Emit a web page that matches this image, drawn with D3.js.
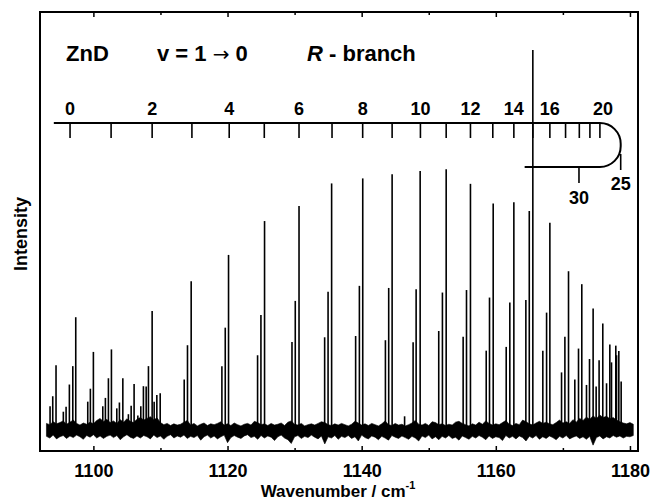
<!DOCTYPE html>
<html>
<head>
<meta charset="utf-8">
<script src="https://cdn.jsdelivr.net/npm/d3@7"></script>
<style>
  body { margin: 0; background: #fff; }
  text { font-family: "Liberation Sans", Arial, sans-serif; font-weight: bold; fill: #000; }
</style>
</head>
<body>
<div id="chart"></div>
<script>
// line positions (cm-1) and peak heights (arb. units, baseline = 0)
const peakPos = [
  1093.54, 1093.94, 1094.43, 1095.52, 1095.93, 1096.42, 1096.93, 1097.37,
  1099.16, 1099.55, 1100.00, 1101.40, 1101.79, 1102.24, 1102.69,
  1103.49, 1103.88, 1104.39, 1105.22, 1105.63, 1106.07,
  1106.63, 1107.07, 1107.46, 1107.87, 1108.21, 1108.76,
  1109.06, 1109.46, 1109.96,
  1113.54, 1114.03, 1114.58, 1119.16, 1119.66, 1120.15,
  1124.48, 1124.98, 1125.52, 1129.61, 1130.10, 1130.66,
  1134.48, 1134.99, 1135.52, 1139.10, 1139.66, 1140.16,
  1143.54, 1144.03, 1144.54, 1146.40, 1147.67, 1148.12, 1148.72,
  1151.49, 1152.04, 1152.60, 1155.13, 1155.63, 1156.22,
  1158.57, 1159.06, 1159.61, 1161.55, 1162.09, 1162.69,
  1164.48, 1164.99, 1165.52, 1167.01, 1167.57, 1168.06,
  1169.80, 1170.30, 1170.84, 1171.78, 1172.33, 1172.82,
  1173.52, 1173.97, 1174.51, 1174.96, 1175.40, 1175.95,
  1176.51, 1177.00, 1177.25, 1177.89, 1178.00, 1178.34, 1178.69
];
const peakInt = [
  5.7, 8.1, 15.5, 4.4, 5.6, 10.9, 15.3, 27.0,
  6.8, 9.9, 18.7, 5.7, 7.7, 12.4, 19.3,
  5.2, 6.6, 12.4, 3.8, 5.8, 11.0,
  3.5, 5.7, 10.5, 10.4, 15.3, 28.5,
  6.8, 8.4, 8.8,
  12.1, 20.3, 35.6, 15.3, 24.5, 41.9,
  17.9, 27.5, 50.0, 21.1, 30.9, 53.6,
  22.2, 33.1, 59.0, 22.5, 34.5, 60.2,
  21.5, 34.0, 61.2, 3.3, 21.0, 33.7, 62.0,
  23.7, 32.9, 62.4, 22.3, 33.5, 58.9,
  19.0, 31.7, 54.2, 19.9, 30.5, 54.5,
  31.1, 52.4, 90.9, 19.0, 28.1, 49.6,
  13.8, 22.3, 38.0, 12.1, 19.5, 34.9,
  10.8, 17.0, 29.1, 10.4, 16.7, 25.5,
  11.2, 20.5, 16.2, 20.2, 17.9, 18.9, 11.6
];

// noise band envelope, every 0.5 cm-1 from 1093.0
const noiseStart = 1093.0;
const noiseStep = 0.5;
const noiseHi = [
  1.6,1.3,2.0,1.5,1.8,2.2,1.4,1.9,2.4,1.6,
  1.2,1.7,1.4,1.9,1.5,2.3,2.8,2.0,2.6,1.8,
  2.2,1.6,2.5,1.9,2.7,2.1,1.8,2.6,3.0,2.4,
  2.8,3.2,2.5,2.9,1.8,1.3,1.6,1.1,1.5,1.2,
  1.4,1.9,2.3,1.2,1.6,1.0,1.4,1.7,1.1,1.5,
  1.3,1.6,2.0,1.2,1.5,1.1,1.7,1.3,1.0,1.4,
  1.6,1.2,2.1,1.8,1.3,1.5,1.1,1.6,1.2,1.4,
  1.7,1.1,1.9,2.2,1.4,1.2,1.6,1.0,1.3,1.5,
  1.2,1.6,2.0,1.8,1.3,1.1,1.5,1.2,1.6,1.3,
  1.0,1.4,2.1,1.7,1.2,1.5,1.1,1.6,1.3,1.0,
  1.5,2.2,1.3,1.1,1.6,1.2,1.4,1.0,1.3,1.7,
  2.3,1.4,1.2,1.6,1.1,2.0,1.8,1.3,1.5,1.1,
  1.4,1.2,1.9,2.1,1.6,1.3,1.0,1.5,1.2,1.9,
  1.4,2.2,1.6,1.2,1.5,1.3,1.8,2.3,1.4,1.1,
  1.6,1.3,2.4,2.0,1.5,1.2,1.7,2.1,1.6,1.9,
  1.5,1.3,1.8,2.4,1.7,2.0,1.6,2.5,1.9,2.8,
  2.3,3.1,2.6,3.4,2.8,3.6,3.0,3.3,2.7,3.0,
  2.4,2.0,1.7,1.5,1.8,1.4
];
const noiseLo = [
  -1.5,-1.9,-1.2,-2.1,-1.6,-1.3,-2.0,-1.4,-1.8,-1.2,
  -1.6,-2.2,-1.3,-1.7,-1.1,-1.9,-1.4,-2.0,-1.5,-1.2,
  -1.8,-1.3,-2.3,-1.6,-1.1,-1.7,-2.0,-1.4,-1.9,-1.3,
  -1.6,-2.1,-1.2,-1.8,-1.4,-2.2,-1.5,-1.1,-1.9,-1.4,
  -1.7,-1.2,-2.0,-1.5,-1.8,-1.3,-2.4,-1.6,-1.2,-1.9,
  -1.4,-2.1,-1.6,-1.2,-3.0,-1.8,-1.3,-1.7,-2.0,-1.4,
  -1.1,-1.8,-1.5,-2.2,-1.3,-1.9,-1.4,-1.7,-2.5,-1.6,
  -1.2,-1.9,-2.3,-3.2,-1.6,-1.3,-2.0,-1.5,-1.8,-1.2,
  -1.7,-2.1,-1.4,-3.3,-1.6,-1.9,-1.3,-2.2,-1.5,-1.8,
  -1.3,-2.0,-1.6,-2.6,-1.2,-1.8,-2.1,-1.4,-1.7,-2.3,
  -1.5,-1.9,-2.4,-1.3,-1.7,-2.0,-1.4,-1.8,-2.2,-1.5,
  -1.9,-2.6,-1.4,-1.8,-1.2,-2.1,-1.6,-2.3,-1.5,-1.9,
  -1.3,-2.0,-1.7,-2.4,-1.4,-1.8,-2.2,-1.5,-1.9,-1.3,
  -1.7,-2.3,-1.4,-2.0,-1.6,-1.8,-2.5,-1.3,-1.9,-1.5,
  -2.1,-1.4,-1.8,-2.6,-1.5,-1.9,-1.3,-2.2,-1.6,-2.0,
  -1.4,-1.8,-2.3,-1.5,-1.9,-1.3,-2.1,-1.7,-1.4,-2.0,
  -1.6,-2.2,-1.5,-3.6,-1.8,-1.4,-2.1,-1.6,-1.9,-1.3,
  -1.7,-1.4,-1.9,-1.5,-1.6,-1.3
];

// R-branch assignment ruler (J -> line position)
const rulerJ = [0,1,2,3,4,5,6,7,8,9,10,11,12,13,14,15,16,17,18,19,20];
const rulerPos = [
  1096.52, 1102.64, 1108.76, 1114.69, 1120.25, 1125.48, 1130.66,
  1135.58, 1140.15, 1144.54, 1148.76, 1152.60, 1156.22, 1159.55,
  1162.69, 1165.52, 1168.06, 1170.40, 1172.45, 1174.03, 1175.52
];
const rulerLabels = [0,2,4,6,8,10,12,14,16,20];
const returnJ = [25, 30];
const returnPos = [1178.62, 1172.40];
const rulerStartPos = 1094.1;
const rulerEndPos = 1164.3;

const xMajor = [1100, 1120, 1140, 1160, 1180];
const xMinor = [1110, 1130, 1150, 1170];

function drawChart() {
    const width = 652, height = 501;
    const plot = { left: 40, right: 638, top: 12, bottom: 451 };

    const svg = d3.select("#chart")
        .append("svg")
        .attr("width", width)
        .attr("height", height);

    const x = d3.scaleLinear()
        .domain([1092.04, 1181.2])
        .range([plot.left, plot.right]);

    const y = d3.scaleLinear()
        .domain([-5, 100])
        .range([plot.bottom, plot.top]);

    // noisy baseline band
    const noise = noiseHi.map((h, i) => ({
        w: noiseStart + i * noiseStep,
        hi: h,
        lo: noiseLo[i]
    }));

    svg.append("path")
        .datum(noise)
        .attr("d", d3.area()
            .x(d => x(d.w))
            .y0(d => y(d.lo))
            .y1(d => y(d.hi)))
        .attr("fill", "#000")
        .attr("stroke", "#000")
        .attr("stroke-width", 0.6);

    // spectral lines
    svg.append("g")
        .selectAll("line")
        .data(peakPos.map((p, i) => ({ w: p, v: peakInt[i] })))
        .join("line")
        .attr("x1", d => x(d.w))
        .attr("x2", d => x(d.w))
        .attr("y1", y(0))
        .attr("y2", d => y(d.v))
        .attr("stroke", "#000")
        .attr("stroke-width", 1.6);

    // frame
    svg.append("rect")
        .attr("x", plot.left)
        .attr("y", plot.top)
        .attr("width", plot.right - plot.left)
        .attr("height", plot.bottom - plot.top)
        .attr("fill", "none")
        .attr("stroke", "#000")
        .attr("stroke-width", 2);

    // bottom axis, ticks pointing inward
    const bottom = svg.append("g")
        .attr("transform", `translate(0,${plot.bottom})`)
        .call(d3.axisBottom(x).tickValues(xMajor).tickSize(-5).tickPadding(13).tickFormat(d3.format("d")));
    bottom.select(".domain").remove();
    bottom.selectAll("line").attr("stroke-width", 1.5);
    bottom.selectAll("text")
        .style("font-size", "18px")
        .style("font-family", '"Liberation Sans", Arial, sans-serif')
        .style("font-weight", "bold");

    svg.append("g")
        .attr("transform", `translate(0,${plot.bottom})`)
        .call(d3.axisBottom(x).tickValues(xMinor).tickSize(-3).tickFormat(""))
        .call(g => g.select(".domain").remove())
        .selectAll("line").attr("stroke-width", 1.5);

    // top axis, ticks only
    svg.append("g")
        .attr("transform", `translate(0,${plot.top})`)
        .call(d3.axisTop(x).tickValues(xMajor).tickSize(-5).tickFormat(""))
        .call(g => g.select(".domain").remove())
        .selectAll("line").attr("stroke-width", 1.5);

    svg.append("g")
        .attr("transform", `translate(0,${plot.top})`)
        .call(d3.axisTop(x).tickValues(xMinor).tickSize(-3).tickFormat(""))
        .call(g => g.select(".domain").remove())
        .selectAll("line").attr("stroke-width", 1.5);

    // axis titles
    const xt = svg.append("text")
        .attr("x", 338)
        .attr("y", 497)
        .attr("text-anchor", "middle")
        .style("font-size", "17px");
    xt.append("tspan").text("Wavenumber / cm");
    xt.append("tspan").attr("dy", -8).style("font-size", "11px").text("-1");

    svg.append("text")
        .attr("transform", "translate(27,234) rotate(-90)")
        .attr("text-anchor", "middle")
        .style("font-size", "18px")
        .text("Intensity");

    // header
    svg.append("text").attr("x", 66).attr("y", 61).style("font-size", "22px").text("ZnD");
    const vt = svg.append("text").attr("x", 157).attr("y", 61).style("font-size", "22px")
        .style("white-space", "pre");
    vt.append("tspan").text("v = 1 ");
    vt.append("tspan")
        .style("font-family", '"DejaVu Sans", sans-serif')
        .style("font-weight", "normal")
        .style("font-size", "20px")
        .text("\u2192");
    vt.append("tspan").text(" 0");
    const br = svg.append("text").attr("x", 307).attr("y", 61).style("font-size", "22px")
        .style("white-space", "pre");
    br.append("tspan").style("font-style", "italic").text("R");
    br.append("tspan").text(" - branch");

    // assignment ruler
    const rTop = 123, rBot = 167, tickLen = 15;
    const x20 = x(rulerPos[rulerPos.length - 1]);
    const xTurn = x(returnPos[0]);
    const r = xTurn - x20;

    svg.append("path")
        .attr("d", `M${x(rulerStartPos)},${rTop} H${x20} ` +
            `A${r},${r} 0 0 1 ${xTurn},${rTop + r} V${rBot - r} ` +
            `A${r},${r} 0 0 1 ${x20},${rBot} H${x(rulerEndPos)}`)
        .attr("fill", "none")
        .attr("stroke", "#000")
        .attr("stroke-width", 2);

    svg.append("g")
        .selectAll("line")
        .data(rulerPos)
        .join("line")
        .attr("x1", d => x(d))
        .attr("x2", d => x(d))
        .attr("y1", rTop)
        .attr("y2", rTop + tickLen)
        .attr("stroke", "#000")
        .attr("stroke-width", 1.6);

    svg.append("g")
        .selectAll("text")
        .data(rulerLabels)
        .join("text")
        .attr("x", d => x(rulerPos[rulerJ.indexOf(d)]) + (d === 20 ? 3 : 0))
        .attr("y", 115)
        .attr("text-anchor", "middle")
        .style("font-size", "18px")
        .text(d => d);

    // return arm: J = 25 on the bend, J = 30 below
    const retTicks = [
        { j: returnJ[0], w: returnPos[0], y1: 154, y2: 170, ty: 190 },
        { j: returnJ[1], w: returnPos[1], y1: rBot, y2: 183, ty: 204 }
    ];
    svg.append("g")
        .selectAll("line")
        .data(retTicks)
        .join("line")
        .attr("x1", d => x(d.w))
        .attr("x2", d => x(d.w))
        .attr("y1", d => d.y1)
        .attr("y2", d => d.y2)
        .attr("stroke", "#000")
        .attr("stroke-width", 1.6);

    svg.append("g")
        .selectAll("text")
        .data(retTicks)
        .join("text")
        .attr("x", d => x(d.w))
        .attr("y", d => d.ty)
        .attr("text-anchor", "middle")
        .style("font-size", "18px")
        .text(d => d.j);
}

drawChart();
</script>
</body>
</html>
